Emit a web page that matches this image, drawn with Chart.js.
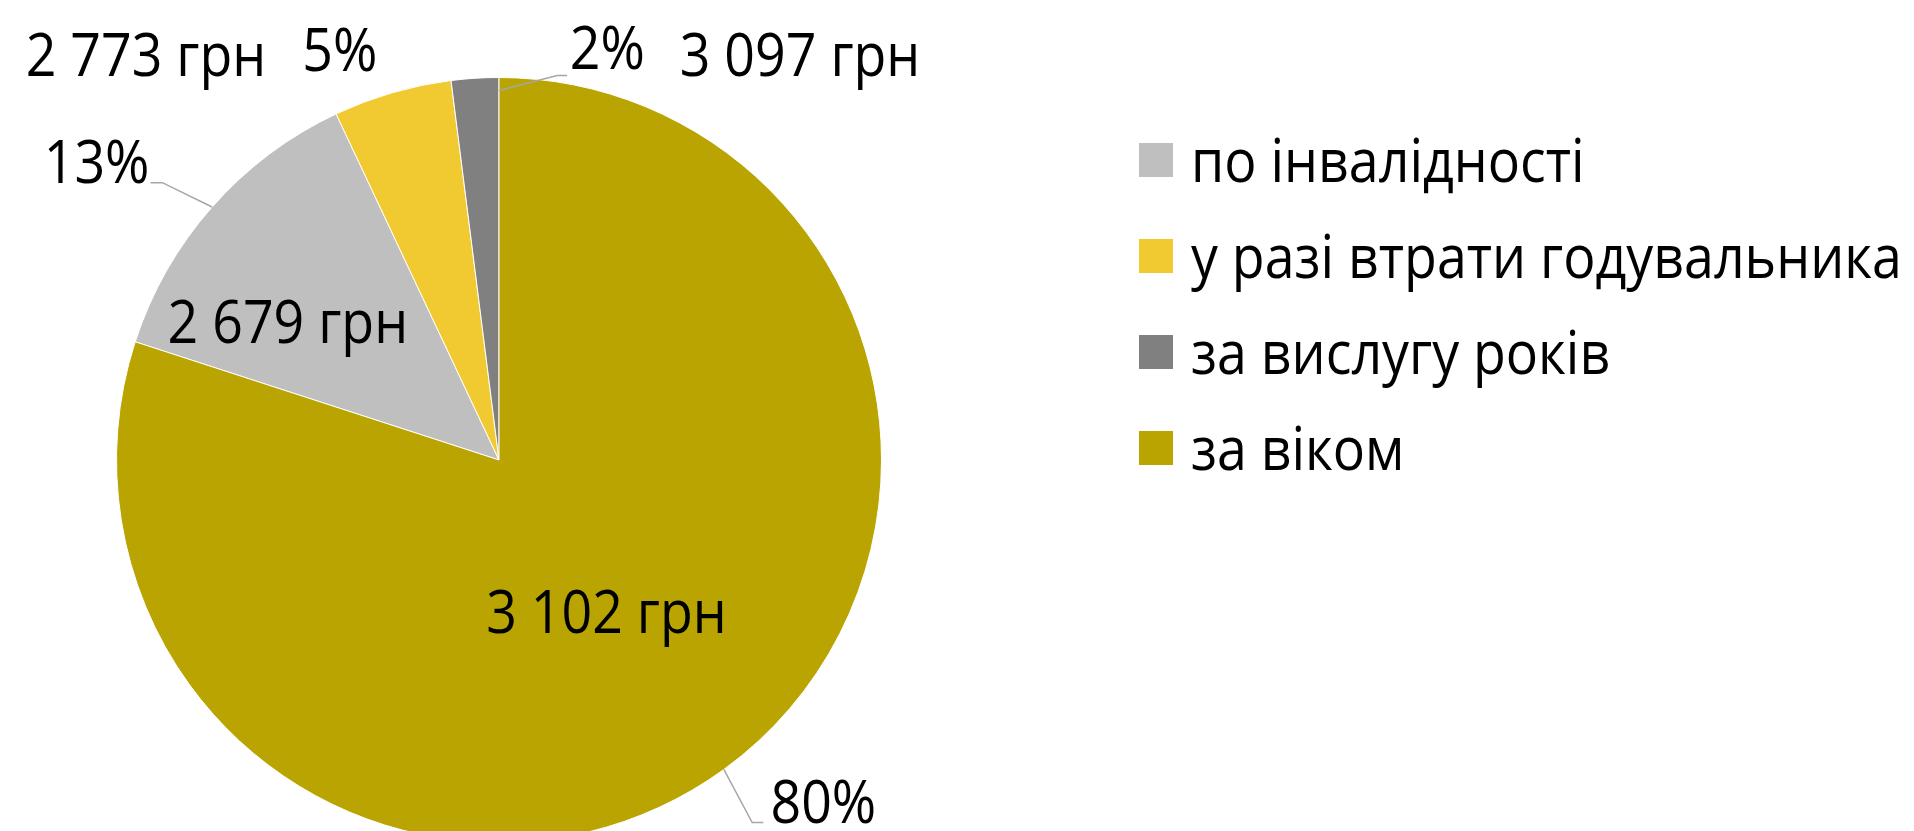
<!DOCTYPE html>
<html><head><meta charset="utf-8">
<script src="https://cdn.jsdelivr.net/npm/chart.js@4"></script>
<style>
html,body{margin:0;padding:0;background:#fff;overflow:hidden;width:1914px;height:831px;}
#wrap{position:relative;width:1914px;height:831px;overflow:hidden;}
canvas{position:absolute;left:0;top:0;}
</style></head>
<body><div id="wrap"><canvas id="c" width="1914" height="900"></canvas></div>
<script>
const categories = ['по інвалідності', 'у разі втрати годувальника', 'за вислугу років', 'за віком'];
const shares = [13, 5, 2, 80];
const avgPension = [2679, 2773, 3097, 3102];
const colors = ['#BFBFBF', '#F1C931', '#808080', '#B9A402'];

const total = shares.reduce((a, b) => a + b, 0);
const fmtUAH = n => String(n).replace(/\B(?=(\d{3})+(?!\d))/g, ' ') + ' грн';
const fmtPct = v => Math.round(v / total * 100) + '%';
const rotation = -360 * (total - shares[shares.length - 1]) / total;

const FONT_FAMILY = '"Open Sans", "Noto Sans", sans-serif';
const FONT_SIZE = 61;
const SCALE_X = 0.88;

// label layout (relative to pie centre, in radius units)
const labelLayout = [
  {amt: [-0.552, -0.306], pct: [-1.052, -0.725], leader: {start: 'mid', pts: [[-0.880, -0.725], [-0.911, -0.725]]}},
  {amt: [-0.923, -1.003], pct: [-0.416, -1.016]},
  {amt: [0.787, -1.003], pct: [0.283, -1.021], leader: {start: [0, -0.966], pts: [[0.152, -1.005], [0.178, -1.005]]}},
  {amt: [0.281, 0.452], pct: [0.848, 0.949], leader: {start: 'mid', pts: [[0.662, 0.948], [0.691, 0.948]]}}
];

function drawText(ctx, text, x, y, align) {
  ctx.save();
  ctx.translate(x, y);
  ctx.scale(SCALE_X, 1);
  ctx.textAlign = align;
  ctx.textBaseline = 'alphabetic';
  ctx.fillText(text, 0, 0);
  ctx.restore();
}

const labelPlugin = {
  id: 'labels',
  afterDraw(chart) {
    const ctx = chart.ctx;
    const arcs = chart.getDatasetMeta(0).data;
    const cx = arcs[0].x, cy = arcs[0].y, r = arcs[0].outerRadius;
    ctx.save();
    ctx.strokeStyle = '#A6A6A6';
    ctx.lineWidth = 1.5;
    arcs.forEach((arc, i) => {
      const L = labelLayout[i].leader;
      if (!L) return;
      let sx, sy;
      if (L.start === 'mid') {
        const a = (arc.startAngle + arc.endAngle) / 2;
        sx = cx + Math.cos(a) * r; sy = cy + Math.sin(a) * r;
      } else { sx = cx + L.start[0] * r; sy = cy + L.start[1] * r; }
      ctx.beginPath();
      ctx.moveTo(sx, sy);
      L.pts.forEach(p => ctx.lineTo(cx + p[0] * r, cy + p[1] * r));
      ctx.stroke();
    });
    ctx.fillStyle = '#000';
    ctx.font = FONT_SIZE + 'px ' + FONT_FAMILY;
    arcs.forEach((arc, i) => {
      const lay = labelLayout[i];
      drawText(ctx, fmtUAH(avgPension[i]), cx + lay.amt[0] * r, cy + lay.amt[1] * r, 'center');
      drawText(ctx, fmtPct(shares[i]), cx + lay.pct[0] * r, cy + lay.pct[1] * r, 'center');
    });
    ctx.restore();
  }
};

const legendPlugin = {
  id: 'customLegend',
  afterDraw(chart) {
    const ctx = chart.ctx;
    ctx.save();
    ctx.font = FONT_SIZE + 'px ' + FONT_FAMILY;
    categories.forEach((c, i) => {
      ctx.fillStyle = colors[i];
      ctx.fillRect(1139, 143 + 96 * i, 34, 34);
      ctx.fillStyle = '#000';
      drawText(ctx, c, 1191, 182 + 96 * i, 'left');
    });
    ctx.restore();
  }
};

new Chart(document.getElementById('c'), {
  type: 'pie',
  data: {
    labels: categories,
    datasets: [{data: shares, backgroundColor: colors, borderColor: '#FFFFFF', borderWidth: 1}]
  },
  options: {
    responsive: false,
    animation: false,
    devicePixelRatio: 1,
    rotation: rotation,
    layout: {padding: {left: 116, right: 1032, top: 77, bottom: 57}},
    plugins: {legend: {display: false}, tooltip: {enabled: false}}
  },
  plugins: [labelPlugin, legendPlugin]
});
</script>
</body></html>
